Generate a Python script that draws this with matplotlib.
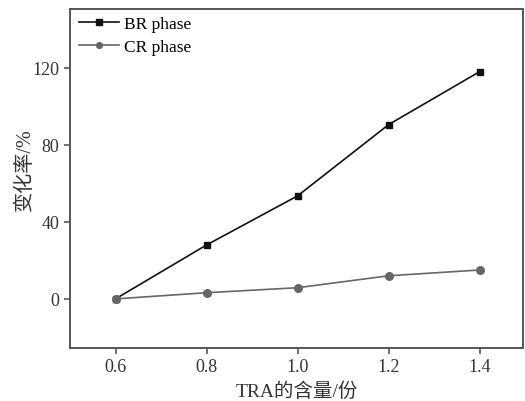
import matplotlib
matplotlib.use("Agg")
import matplotlib.pyplot as plt

x_vals = [0.6, 0.8, 1.0, 1.2, 1.4]
br_vals = [0, 28, 53.5, 90.5, 118]
cr_vals = [0, 3.2, 5.8, 12, 15]
xticks = [0.6, 0.8, 1.0, 1.2, 1.4]
yticks = [0, 40, 80, 120]

plt.rcParams['font.family'] = ['Liberation Serif', 'Noto Sans CJK SC']

fig = plt.figure(figsize=(5.25, 4.02), dpi=100)
ax = fig.add_axes([70/525, 53/402, 453/525, 339/402])

ax.plot(x_vals, br_vals, color='#111111', lw=1.2, marker='s', ms=5, label='BR phase')
ax.plot(x_vals, cr_vals, color='#666666', lw=1.2, marker='o', ms=5.5, label='CR phase')

ax.set_xlim(0.5, 1.495)
ax.set_ylim(-25.5, 150.5)
ax.set_xticks(xticks)
ax.set_xticklabels([f"{v:.1f}" for v in xticks])
ax.set_yticks(yticks)
for s in ax.spines.values():
    s.set_color('#555555')
    s.set_linewidth(1.4)
ax.tick_params(direction='out', length=4, width=1.2, color='#555555', labelsize=13, labelcolor='#333333')

ax.set_xlabel('TRA的含量/份', fontsize=14, color='#333333',
              family=['Liberation Serif', 'Noto Sans CJK SC'], labelpad=4)
ax.set_ylabel('变化率/%', fontsize=14.5, color='#333333',
              family=['Liberation Serif', 'Noto Sans CJK SC'], labelpad=3)
ax.yaxis.set_label_coords(-0.077, 0.53)

ax.legend(loc='upper left', frameon=False, fontsize=12.5, handlelength=2.3,
          borderaxespad=0.0, bbox_to_anchor=(0.005, 1.0), labelspacing=0.4,
          handletextpad=0.3, markerscale=0.75)

fig.savefig('out.png', dpi=100)
